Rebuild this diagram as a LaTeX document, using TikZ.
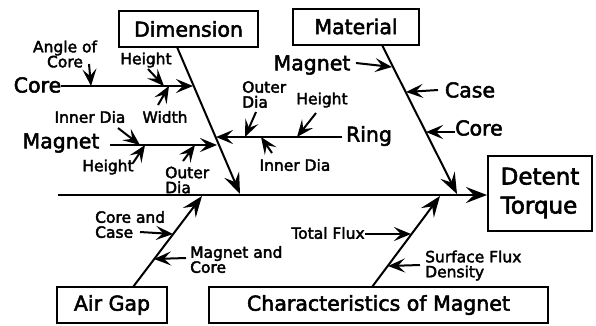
\documentclass[tikz,border=0pt]{standalone}
\usepackage{fontspec}
\setmainfont{DejaVu Sans}[FakeBold=2.5]
\usetikzlibrary{arrows.meta}
\begin{document}
\begin{tikzpicture}[x=1pt,y=-1pt,
  box/.style={draw, line width=2pt, inner sep=0pt, minimum height=36pt, font=\fontsize{20.5}{22}\selectfont},
  big/.style={inner sep=0pt, font=\fontsize{20.5}{22}\selectfont},
  small/.style={inner sep=0pt, font=\fontsize{15.5}{15}\selectfont, align=left},
  bone/.style={line width=2pt, -{Stealth[length=21pt,width=16pt,inset=8pt]}},
  twig/.style={line width=2pt, -{Stealth[length=17pt,width=14pt,inset=7pt]}},
]
\useasboundingbox (0,0) rectangle (596,325);
% boxes
\node[box, minimum width=139pt] (dim) at (188.5,29) {Dimension};
\node[box, minimum width=126pt] (mat) at (356,26.5) {Material};
\node[box, minimum width=104pt, minimum height=75pt, align=left, font=\fontsize{23}{29}\selectfont] (det) at (540,193) {Detent\\Torque};
\node[box, minimum width=110pt] (air) at (112,305) {Air Gap};
\node[box, minimum width=339pt] (chr) at (378.5,305) {Characteristics of Magnet};
% spine
\coordinate (sp0) at (58,195);
\draw[bone] (sp0) -- (det.west |- sp0);
% main bones
\coordinate (dimS) at (177,47);  \coordinate (dimT) at (240,194);
\coordinate (matS) at (382,45);  \coordinate (matT) at (457,194);
\coordinate (airS) at (133,287); \coordinate (airT) at (202,196);
\coordinate (chrS) at (372,287); \coordinate (chrT) at (440,196);
\draw[bone] (dimS) -- (dimT);
\draw[bone] (matS) -- (matT);
\draw[bone] (airS) -- (airT);
\draw[bone] (chrS) -- (chrT);
% Dimension: Core
\node[big] (core1) at (37.5,85) {Core};
\coordinate (core1T) at (193,86);
\draw[twig] (core1.east |- core1T) -- (core1T);
\node[small, anchor=center, align=center] (angle) at (65,54) {Angle of\\Core};
\coordinate (angS) at (89,64); \coordinate (angT) at (91,86);
\draw[twig] (angS) -- (angT);
\node[small] (h1) at (146,60) {Height};
\coordinate (h1S) at (148,69); \coordinate (h1T) at (164,86);
\draw[twig] (h1S) -- (h1T);
\node[small] (w1) at (165,117) {Width};
\coordinate (w1S) at (158,105); \coordinate (w1T) at (169,86);
\draw[twig] (w1S) -- (w1T);
% Dimension: Magnet
\node[big] (mag1) at (61,143) {Magnet};
\coordinate (mag1S) at (110,145); \coordinate (mag1T) at (217,145);
\draw[twig] (mag1S) -- (mag1T);
\node[small] (id1) at (90,117) {Inner Dia};
\coordinate (id1S) at (118,128); \coordinate (id1T) at (140,145);
\draw[twig] (id1S) -- (id1T);
\node[small] (h2) at (108,167) {Height};
\coordinate (h2S) at (133,163); \coordinate (h2T) at (145,145);
\draw[twig] (h2S) -- (h2T);
\node[small, anchor=west] (od1) at (165,180) {Outer\\Dia};
\coordinate (od1S) at (183,161); \coordinate (od1T) at (195,145);
\draw[twig] (od1S) -- (od1T);
% Dimension: Ring
\node[big] (ring) at (369,136) {Ring};
\coordinate (ringS) at (342,137); \coordinate (ringT) at (216,137);
\draw[twig] (ringS) -- (ringT);
\node[small, anchor=west] (od2) at (242,94.5) {Outer\\Dia};
\coordinate (od2S) at (256,112); \coordinate (od2T) at (245,137);
\draw[twig] (od2S) -- (od2T);
\node[small] (h3) at (322,100) {Height};
\coordinate (h3S) at (316,113); \coordinate (h3T) at (297,137);
\draw[twig] (h3S) -- (h3T);
\node[small] (id2) at (295,165) {Inner Dia};
\coordinate (id2S) at (272,153); \coordinate (id2T) at (261,137);
\draw[twig] (id2S) -- (id2T);
% Material
\node[big] (mag2) at (312,65) {Magnet};
\coordinate (mag2S) at (356,63); \coordinate (mag2T) at (392,67);
\draw[twig] (mag2S) -- (mag2T);
\node[big] (case) at (470,90) {Case};
\coordinate (caseS) at (438,90); \coordinate (caseT) at (406,92);
\draw[twig] (caseS) -- (caseT);
\node[big] (core2) at (479,128) {Core};
\coordinate (core2T) at (426,132);
\draw[twig] (core2.west |- core2T) -- (core2T);
% Air Gap
\node[small, anchor=west] (cc) at (95,224.5) {Core and\\Case};
\coordinate (ccS) at (140,232); \coordinate (ccT) at (173,234);
\draw[twig] (ccS) -- (ccT);
\node[small, anchor=west] (mc) at (190,259.5) {Magnet and\\Core};
\coordinate (mcS) at (186,258); \coordinate (mcT) at (154,259);
\draw[twig] (mcS) -- (mcT);
% Characteristics
\node[small] (tf) at (328,233) {Total Flux};
\coordinate (tfT) at (411,234);
\draw[twig] (tf.east |- tfT) -- (tfT);
\node[small, anchor=west] (sfd) at (425,265.5) {Surface Flux\\Density};
\coordinate (sfdS) at (420,265); \coordinate (sfdT) at (388,266);
\draw[twig] (sfdS) -- (sfdT);
\end{tikzpicture}
\end{document}
